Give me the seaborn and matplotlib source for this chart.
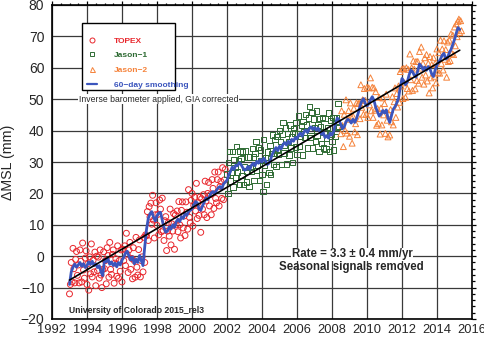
import numpy as np
import pandas as pd
import matplotlib
matplotlib.use("Agg")
import matplotlib.pyplot as plt
from matplotlib.lines import Line2D
from matplotlib.patches import Rectangle
from matplotlib.ticker import MultipleLocator
import seaborn as sns

# ---------------- data (mm) ----------------
topex_start, jason1_start, jason2_start, cycle = 1993.0, 2002.0, 2008.5, 0.05
topex_mm = [
    -12, -9, -2, -8.2, 2.5, -4, -8.5, -1, 1.5, -6.1, -2.8, -8.5, 2, -1.6, -8.2, 4.2, -4.4, -7, -0.6, 1.7,
    -9, -2.4, -10.8, -0.2, -5.6, 3.9, -6.6, -1.3, -5, 1.3, -9.4, 0, -4.6, -0.3, -7, 2, -6, -10, -4.2, 1.4,
    -4, -1.4, -8.8, 2.7, 0.2, -6.7, 4.4, -4.2, -5.8, 0.6, 2, -8.6, -2.2, -0.8, -6.4, 3.3, -7, -1.4, -4.8, 2,
    -8.2, 2.2, -1.4, 3.3, -3, 7.3, 0.6, -5.2, 2, 4.4, -4.2, -0.7, -7.2, 2.7, -1.4, -6.7, 6, -3.5, -6, 2.1,
    5.2, -6.6, -1.4, -0.2, -5, 6, -2, 6.8, 6.5, 14.2, 5, 15.8, 12.5, 16.9, 10.2, 19.4, 11.5, 5.8, 13.2, 17,
    9.8, 13.3, 6.8, 17.9, 15, 7.8, 18.5, 8.2, 5, 11.3, 12.6, 1.8, 8, 10.7, 6.4, 15, 3.6, 10.3, 8, 13.6,
    2.2, 13.1, 10, 14.4, 7.8, 17.4, 10, 5.8, 14.6, 17.3, 9, 12.8, 6.6, 17.3, 14, 8.6, 21.2, 12.4, 10.6, 17.8,
    20, 9.6, 16.2, 18.8, 14.4, 23.2, 12, 17, 13, 18.8, 7.6, 18.3, 15, 19.6, 13.2, 23.9, 17.6, 12.3, 20, 23.5,
    16, 19.6, 13.2, 24.4, 21.6, 15.2, 26.8, 18.4, 17, 24.4, 26.8, 16, 22.2, 23.8, 18.4, 28.2, 18, 24.3, 27.6,
]
jason1_mm = [
    26.2, 20, 29.8, 33.4, 24, 26.7, 33.4, 22, 30.6, 28.3, 25, 34.9, 26.8, 30.3, 22.8, 33.5, 31.2, 25.7, 33.2, 22.8,
    28.4, 33.5, 23.6, 27.1, 31.6, 22.1, 31.6, 28.3, 27, 34.3, 31.6, 24.2, 32.8, 36.5, 27.2, 28.9, 34.6, 24.2, 33.8, 30.4,
    26, 20.6, 37.2, 28.8, 31.4, 22.8, 33.2, 31.4, 26.6, 35.3, 26, 32.8, 38.6, 29.2, 32.8, 37.2, 28.6, 38.1, 33.6, 32.3,
    40, 36.6, 29.2, 38.9, 42.6, 32.9, 35.2, 40.8, 29.4, 39, 36.6, 32.2, 41.8, 34.5, 38.2, 29.9, 40.6, 39.2, 34.8, 42.6,
    32.4, 39, 44.6, 34.9, 38.2, 41.7, 32.2, 42.9, 39.6, 37.9, 45.2, 41.8, 34.4, 44, 47.6, 37.9, 40.2, 45.8, 34.4, 43.7,
    41, 36.6, 46.2, 38.5, 41.8, 33.3, 43.8, 41.3, 35.8, 44.1, 34.4, 39.6, 43.8, 34.1, 37.4, 41, 45.6, 33.4, 43.2, 38.9,
    36.6, 44.2, 33.8, 44, 38.2, 44.1, 41, 48.7, 41.4,
]
jason2_mm = [
    39, 46.3, 41.6, 34.9, 45.2, 40, 49.8, 39.2, 43.6, 46.4, 38.2, 48.8, 44.4, 36, 44.6, 47.1, 39.6, 42.2, 48.8, 38.7,
    48.6, 48.7, 43.8, 54.6, 47.4, 49.8, 45.2, 53.4, 49.6, 45.2, 53.8, 44.2, 53.6, 48.2, 56.8, 46.3, 53.8, 44.2, 53.6, 46.5,
    52.4, 41.7, 47, 42.3, 50.6, 38.9, 47.2, 41.8, 50.4, 45, 48.6, 39.1, 51.6, 43.3, 38, 45.3, 38.6, 46.7, 42.8, 50.8,
    41.8, 49.2, 53.6, 44.2, 51.8, 47.5, 54.2, 49, 58.8, 54.2, 59.6, 50.2, 59.8, 55.2, 50.6, 60, 53.4, 59.5, 52.6, 64.4,
    56.2, 60, 52.8, 62.2, 59.6, 53.3, 62, 56, 62, 55.1, 65.2, 59.9, 66.6, 57, 61.4, 54.8, 63.2, 57.7, 64.2, 55.8,
    61.4, 52, 63.6, 56.8, 61, 53.6, 63.2, 57.3, 61.4, 55.2, 66, 58.4, 64.8, 58.3, 68.8, 61.4, 66, 59.3, 68.6, 62.7,
    65.8, 57, 68.2, 62, 68.8, 62.3, 70.8, 64.6, 70.4, 64.2, 73, 67, 74, 69.9, 74.8, 75.5, 71.2, 75, 71.8,
]
smooth_start, smooth_step = 1993.0, 0.1
smooth_mm = [
    -9.0, -5.0, -3.5, -2.5, -3.5, -2.8, -2.0, -3.2, -2.4, -3.6,
    -3.0, -1.8, -2.6, -1.6, -3.0, -2.4, -3.6, -3.0, -5.0, -6.2,
    -1.0, -1.8, -0.8, -2.6, -1.8, -3.0, -2.2, -3.4, -2.0, -2.8,
    -1.2, -0.4, 1.0, 1.6, 0.0, -1.2, -0.2, -2.4, -1.0, -2.0,
    0.2, -1.4, -3.0, 3.0, 8.5, 12.0, 13.5, 14.2, 12.5, 11.2,
    12.8, 13.8, 14.0, 11.5, 9.0, 7.6, 8.0, 9.4, 8.6, 10.0,
    9.2, 11.0, 11.8, 11.0, 12.6, 12.0, 13.6, 13.0, 14.2, 14.6,
    15.0, 16.2, 17.4, 17.0, 15.0, 14.6, 16.0, 17.2, 18.6, 18.0,
    19.0, 20.2, 20.6, 19.8, 21.0, 21.8, 22.2, 21.4, 23.0, 23.6,
    24.2, 25.8, 27.0, 28.4, 27.6, 29.0, 28.8, 29.8, 29.2, 28.2,
    27.4, 27.6, 28.6, 27.6, 29.0, 29.6, 28.8, 30.2, 29.6, 30.8,
    30.0, 31.2, 30.4, 29.2, 29.6, 31.0, 32.6, 33.8, 34.6, 33.6,
    35.0, 34.2, 35.6, 36.2, 35.4, 36.6, 35.8, 37.2, 36.6, 37.8,
    37.4, 38.6, 39.2, 38.2, 39.6, 40.2, 39.4, 40.6, 41.2, 40.4,
    41.0, 40.2, 40.8, 39.8, 38.8, 39.4, 37.8, 38.4, 37.6, 39.2,
    38.6, 39.8, 42.2, 44.0, 43.4, 42.0, 40.6, 41.2, 42.8, 43.6,
    43.2, 42.4, 43.6, 42.6, 43.8, 45.6, 47.8, 49.4, 50.2, 48.6,
    47.8, 48.6, 49.8, 50.8, 49.6, 47.4, 46.0, 44.6, 45.2, 46.4,
    45.6, 46.6, 44.0, 42.6, 44.8, 46.8, 47.6, 48.8, 50.2, 53.8,
    56.6, 55.8, 54.6, 55.4, 57.6, 59.2, 58.8, 57.6, 57.0, 59.0,
    61.2, 60.6, 59.4, 60.2, 59.2, 60.4, 59.6, 58.0, 57.2, 59.4,
    61.0, 61.8, 62.8, 64.0, 64.6, 62.8, 63.2, 64.8, 65.8, 67.4,
    69.0, 71.0, 72.8, 72.2,
]
trend_years = [1993.0, 2015.3]
trend_mm = [-7.6, 65.6]

x_ticks = list(range(1992, 2017, 2))
y_ticks = list(range(-20, 81, 10))

# ---------------- styling ----------------
RED, GREEN, ORANGE, BLUE = "#e8262c", "#2e6b33", "#f5823a", "#3b55bd"
sns.set_style("white")
plt.rcParams["font.family"] = ["Liberation Sans", "DejaVu Sans"]

def mk(start, step, vals):
    return pd.DataFrame({"year": start + step * np.arange(len(vals)), "mm": vals})

df_t = mk(topex_start, cycle, topex_mm)
df_j1 = mk(jason1_start, cycle, jason1_mm)
df_j2 = mk(jason2_start, cycle, jason2_mm)
df_s = mk(smooth_start, smooth_step, smooth_mm)
df_tr = pd.DataFrame({"year": trend_years, "mm": trend_mm})

fig = plt.figure(figsize=(4.85, 3.38), dpi=100)
ax = fig.add_axes([52 / 485, 19 / 338, 420 / 485, 314 / 338])

ax.grid(True, which="major", color="#3a3a3a", lw=0.9)
ax.set_axisbelow(True)

ms = 18
sns.scatterplot(data=df_t, x="year", y="mm", ax=ax, marker="o", s=ms,
                facecolors="none", edgecolor=RED, linewidth=0.7, zorder=3)
sns.scatterplot(data=df_j1, x="year", y="mm", ax=ax, marker="s", s=ms - 3,
                facecolors="none", edgecolor=GREEN, linewidth=0.7, zorder=3)
sns.scatterplot(data=df_j2, x="year", y="mm", ax=ax, marker="^", s=ms,
                facecolors="none", edgecolor=ORANGE, linewidth=0.7, zorder=3)
sns.lineplot(data=df_s, x="year", y="mm", ax=ax, color=BLUE, lw=2.0,
             estimator=None, sort=False, zorder=4)
sns.lineplot(data=df_tr, x="year", y="mm", ax=ax, color="black", lw=1.2,
             estimator=None, sort=False, zorder=5)

ax.set_xlim(1992, 2016)
ax.set_ylim(-20, 80)
ax.set_xticks(x_ticks)
ax.set_yticks(y_ticks)
ax.xaxis.set_minor_locator(MultipleLocator(0.5))
ax.yaxis.set_minor_locator(MultipleLocator(2))
ax.tick_params(which="both", direction="out", top=True, right=True,
               labeltop=False, labelright=False, color="black", width=0.9)
ax.tick_params(which="major", length=3)
ax.tick_params(which="minor", length=1.8)
ax.tick_params(axis="x", which="major", labelsize=9.3, pad=0.8)
ax.tick_params(axis="y", which="major", labelsize=10, pad=2.5)
for sp in ax.spines.values():
    sp.set_color("black")
    sp.set_linewidth(1.2)
ax.set_xlabel("")
ax.set_ylabel("ΔMSL (mm)", fontsize=10.3)
ax.yaxis.set_label_coords(-0.088, 0.5)

# legend box (the longest label runs past the frame, as in the original)
ax.add_patch(Rectangle((0.0714, 0.729), 0.2214, 0.2134, transform=ax.transAxes,
                       facecolor="white", edgecolor="black", lw=1.0, zorder=9))
handles = [
    Line2D([], [], ls="none", marker="o", mfc="none", mec=RED, ms=3.6, mew=0.7),
    Line2D([], [], ls="none", marker="s", mfc="none", mec=GREEN, ms=3.2, mew=0.7),
    Line2D([], [], ls="none", marker="^", mfc="none", mec=ORANGE, ms=3.6, mew=0.7),
    Line2D([], [], color=BLUE, lw=1.6),
]
labels = ["TOPEX", "Jason−1", "Jason−2", "60−day smoothing"]
leg = ax.legend(handles, labels, loc="upper left", bbox_to_anchor=(0.083, 0.899),
                frameon=False, prop={"size": 6, "weight": "bold"},
                labelspacing=0.84, handlelength=1.2, handletextpad=2.0,
                borderpad=0, borderaxespad=0)
for txt, c in zip(leg.get_texts(), [RED, GREEN, ORANGE, BLUE]):
    txt.set_color(c)
leg.set_zorder(10)

bb = dict(facecolor="white", edgecolor="none", pad=0.5)
ax.text(1998.1, 50, "Inverse barometer applied, GIA corrected", fontsize=6.2,
        ha="center", va="center", bbox=bb, zorder=11)
ax.text(1996.85, -17.2, "University of Colorado 2015_rel3", fontsize=6.2,
        fontweight="bold", ha="center", va="center", zorder=11)
ax.text(2009.15, 0.6, "Rate = 3.3 ± 0.4 mm/yr", fontsize=8.3, fontweight="bold",
        ha="center", va="center", bbox=bb, zorder=11)
ax.text(2009.1, -3.5, "Seasonal signals removed", fontsize=8.3, fontweight="bold",
        ha="center", va="center", zorder=11)

fig.savefig("out.png", dpi=100)
